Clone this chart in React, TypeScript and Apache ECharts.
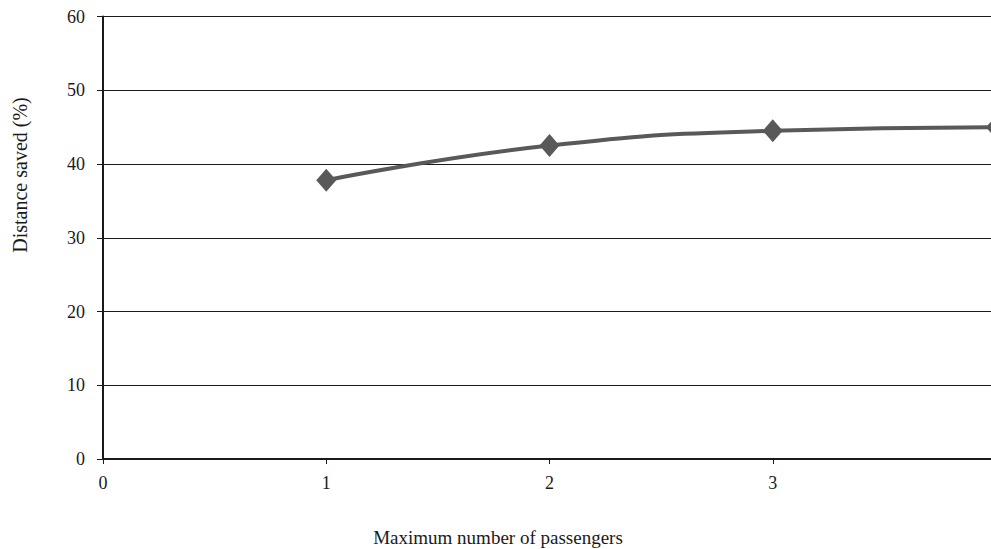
import React, { useEffect, useRef } from "react";
import * as echarts from "echarts";

const passengers = [1, 2, 3, 4];
const distanceSaved = [37.8, 42.5, 44.5, 45.0];
const xTitle = "Maximum number of passengers";
const yTitle = "Distance saved (%)";

const FONT = '"Liberation Serif", "Times New Roman", serif';

export default function App() {
  const ref = useRef<HTMLDivElement>(null);
  useEffect(() => {
    if (!ref.current) return;
    const chart = echarts.init(ref.current, null, { renderer: "svg" });
    chart.setOption({
      animation: false,
      backgroundColor: "#ffffff",
      grid: { left: 103, top: 16.5, width: 893, height: 442.5 },
      xAxis: {
        type: "value",
        min: 0,
        max: 4,
        interval: 1,
        axisLine: { show: true, onZero: false, lineStyle: { color: "#1a1a1a", width: 2 } },
        axisTick: { show: true, length: 5, inside: false, lineStyle: { color: "#1a1a1a", width: 1 } },
        axisLabel: { margin: 15, fontSize: 18, fontFamily: FONT, color: "#1a1a1a" },
        splitLine: { show: false },
      },
      yAxis: {
        type: "value",
        min: 0,
        max: 60,
        interval: 10,
        axisLine: { show: true, lineStyle: { color: "#1a1a1a", width: 2 } },
        axisTick: { show: true, length: 6, inside: false, lineStyle: { color: "#1a1a1a", width: 1 } },
        axisLabel: { margin: 18, fontSize: 18, fontFamily: FONT, color: "#1a1a1a" },
        splitLine: { show: true, lineStyle: { color: "#1a1a1a", width: 1 } },
      },
      graphic: [
        {
          type: "text",
          x: 498,
          y: 537,
          style: {
            text: xTitle,
            font: `19px ${FONT}`,
            fill: "#1a1a1a",
            textAlign: "center",
            textVerticalAlign: "middle",
          },
        },
        {
          type: "text",
          x: 20,
          y: 175,
          rotation: Math.PI / 2,
          style: {
            text: yTitle,
            font: `20px ${FONT}`,
            fill: "#1a1a1a",
            textAlign: "center",
            textVerticalAlign: "middle",
          },
        },
      ],
      series: [
        {
          type: "line",
          data: passengers.map((p, i) => [p, distanceSaved[i]]),
          smooth: true,
          symbol: "diamond",
          symbolSize: [20, 23],
          clip: false,
          lineStyle: { color: "#595959", width: 4 },
          itemStyle: { color: "#595959" },
        },
      ],
    });
    return () => chart.dispose();
  }, []);

  return (
    <div
      style={{
        position: "fixed",
        left: 0,
        top: 0,
        width: 991,
        height: 549,
        overflow: "hidden",
        background: "#fff",
      }}
    >
      <div ref={ref} style={{ width: 1010, height: 549 }} />
    </div>
  );
}
